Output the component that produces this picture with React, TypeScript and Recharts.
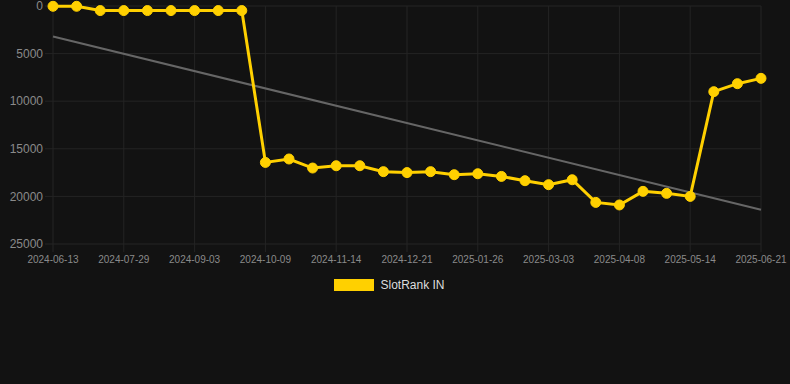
import { LineChart, Line, XAxis, YAxis, CartesianGrid, Legend } from "recharts";

const dates = [
  "2024-06-13", "2024-06-28", "2024-07-13", "2024-07-29", "2024-08-10", "2024-08-22",
  "2024-09-03", "2024-09-15", "2024-09-27", "2024-10-09", "2024-10-21", "2024-11-02",
  "2024-11-14", "2024-11-26", "2024-12-08", "2024-12-21", "2025-01-02", "2025-01-14",
  "2025-01-26", "2025-02-07", "2025-02-19", "2025-03-03", "2025-03-15", "2025-03-27",
  "2025-04-08", "2025-04-20", "2025-05-02", "2025-05-14", "2025-05-26", "2025-06-08",
  "2025-06-21",
];

const rank = [
  30, 30, 480, 480, 480, 480, 480, 480, 480, 16430, 16070, 17020, 16780, 16780, 17400,
  17500, 17400, 17720, 17620, 17900, 18350, 18770, 18250, 20630, 20900, 19470, 19680,
  20000, 9000, 8160, 7600,
];

// trend line endpoints only, joined with connectNulls
const trendStart = 3200;
const trendEnd = 21400;

const yTicks = [0, 5000, 10000, 15000, 20000, 25000];

const data = dates.map((d, i) => ({
  date: d,
  rank: rank[i],
  trend: i === 0 ? trendStart : i === dates.length - 1 ? trendEnd : null,
}));

const YELLOW = "#ffd000";
const GRID = "#242424";

function LegendBox() {
  return (
    <div
      style={{
        display: "flex",
        justifyContent: "center",
        alignItems: "center",
        height: 22,
        paddingLeft: 18,
        fontSize: 12,
        color: "#dddddd",
      }}
    >
      <span style={{ width: 40, height: 12, background: YELLOW, marginRight: 6 }} />
      <span>SlotRank IN</span>
    </div>
  );
}

export default function App() {
  return (
    <div
      style={{
        position: "absolute",
        top: 0,
        left: 0,
        width: 790,
        height: 384,
        background: "#121212",
        fontFamily: "'Liberation Sans', Arial, Helvetica, sans-serif",
      }}
    >
      <LineChart
        width={790}
        height={301}
        data={data}
        margin={{ top: 6, right: 29, left: 0, bottom: 5 }}
      >
        <CartesianGrid stroke={GRID} />
        <XAxis
          dataKey="date"
          interval={2}
          axisLine={false}
          tickSize={8}
          tickMargin={4}
          tickLine={{ stroke: GRID }}
          tick={{ fill: "#8a8a8a", fontSize: 10 }}
          height={30}
        />
        <YAxis
          reversed
          domain={[0, 25000]}
          ticks={yTicks}
          interval={0}
          width={53}
          axisLine={false}
          tickSize={8}
          tickMargin={2}
          tickLine={{ stroke: GRID }}
          tick={{ fill: "#8a8a8a", fontSize: 12 }}
        />
        <Legend content={<LegendBox />} height={22} />
        <Line
          dataKey="trend"
          stroke="#666666"
          strokeWidth={2}
          dot={false}
          connectNulls
          isAnimationActive={false}
          legendType="none"
        />
        <Line
          dataKey="rank"
          stroke={YELLOW}
          strokeWidth={3}
          dot={{ r: 5, fill: YELLOW, stroke: YELLOW, strokeWidth: 1 }}
          isAnimationActive={false}
        />
      </LineChart>
    </div>
  );
}
